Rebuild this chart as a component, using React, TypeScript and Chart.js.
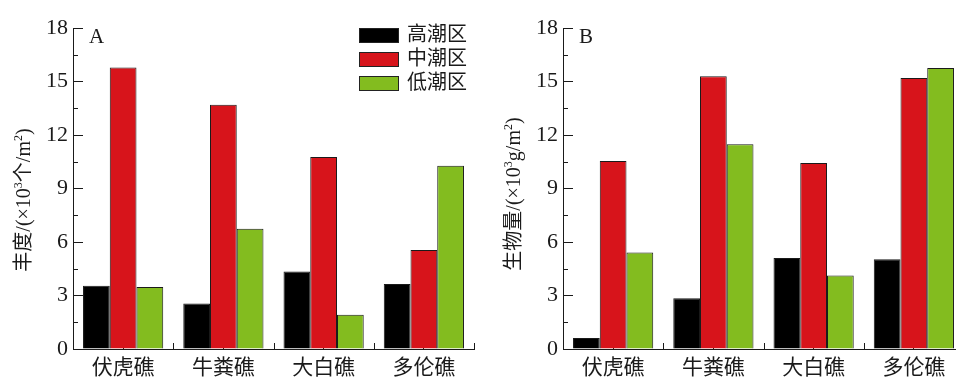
import React, { useEffect, useRef } from "react";
import { Chart, registerables } from "chart.js";

Chart.register(...registerables);

// Sampling sites and tidal zones
const reefs = ["伏虎礁", "牛粪礁", "大白礁", "多伦礁"];
const zoneNames = ["高潮区", "中潮区", "低潮区"];
const zoneColors = ["#000000", "#d7141b", "#83bc1f"];

// Abundance (×10³ ind/m²) per reef, by tidal zone
const abundanceHigh = [3.55, 2.56, 4.35, 3.65];
const abundanceMid = [15.8, 13.7, 10.77, 5.56];
const abundanceLow = [3.48, 6.75, 1.92, 10.28];

// Biomass (×10³ g/m²) per reef, by tidal zone
const biomassHigh = [0.62, 2.85, 5.1, 5.04];
const biomassMid = [10.55, 15.3, 10.44, 15.21];
const biomassLow = [5.41, 11.49, 4.13, 15.76];

const yTicks = [0, 3, 6, 9, 12, 15, 18];

const SERIF = "'Liberation Serif', 'Times New Roman', 'Noto Sans CJK SC', serif";
const AXIS = "#1a1a1a";
const TEXT = "#1a1a1a";

type Seg = { t: string; sup?: boolean };

const abundanceTitle: Seg[] = [
  { t: "丰度/(×10" },
  { t: "3", sup: true },
  { t: "个/m" },
  { t: "2", sup: true },
  { t: ")" },
];
const biomassTitle: Seg[] = [
  { t: "生物量/(×10" },
  { t: "3", sup: true },
  { t: "g/m" },
  { t: "2", sup: true },
  { t: ")" },
];

// Minor ticks, panel letter, rotated axis title with superscripts, legend
const panelDecor = {
  id: "panelDecor",
  afterDraw(chart: any, _args: any, opts: any) {
    const { ctx, chartArea } = chart;
    const xs = chart.scales.x;
    const ys = chart.scales.y;
    ctx.save();
    ctx.strokeStyle = AXIS;
    ctx.lineWidth = 1;

    for (let i = 0; i < yTicks.length - 1; i++) {
      const v = (yTicks[i] + yTicks[i + 1]) / 2;
      const py = Math.round(ys.getPixelForValue(v)) + 0.5;
      ctx.beginPath();
      ctx.moveTo(chartArea.left, py);
      ctx.lineTo(chartArea.left + 5, py);
      ctx.stroke();
    }
    for (let i = 1; i <= reefs.length; i++) {
      const px = Math.round(xs.getPixelForValue(i - 0.5)) + 0.5;
      ctx.beginPath();
      ctx.moveTo(px, chartArea.bottom);
      ctx.lineTo(px, chartArea.bottom - 6);
      ctx.stroke();
    }

    // panel letter
    ctx.fillStyle = TEXT;
    ctx.font = `21px ${SERIF}`;
    ctx.textAlign = "left";
    ctx.textBaseline = "alphabetic";
    ctx.fillText(opts.letter, opts.letterX, opts.letterY);

    // y-axis title
    const segs: Seg[] = opts.title;
    const baseFont = `20px ${SERIF}`;
    const supFont = `12px ${SERIF}`;
    let total = 0;
    for (const s of segs) {
      ctx.font = s.sup ? supFont : baseFont;
      total += ctx.measureText(s.t).width;
    }
    ctx.save();
    ctx.translate(opts.titleX, opts.titleY);
    ctx.rotate(-Math.PI / 2);
    let cx = -total / 2;
    for (const s of segs) {
      ctx.font = s.sup ? supFont : baseFont;
      ctx.fillText(s.t, cx, s.sup ? -1 : 7);
      cx += ctx.measureText(s.t).width;
    }
    ctx.restore();

    // legend
    if (opts.legend) {
      const { x, y, gap } = opts.legend;
      chart.data.datasets.forEach((ds: any, i: number) => {
        const cy = y + i * gap;
        ctx.fillStyle = ds.backgroundColor;
        ctx.fillRect(x, cy - 7, 40, 14);
        ctx.strokeStyle = "#222";
        ctx.strokeRect(x + 0.5, cy - 7 + 0.5, 39, 14);
        ctx.fillStyle = TEXT;
        ctx.font = `20px ${SERIF}`;
        ctx.textBaseline = "middle";
        ctx.fillText(ds.label, x + 48, cy + 1);
      });
    }
    ctx.restore();
  },
};

type PanelProps = {
  high: number[];
  mid: number[];
  low: number[];
  title: Seg[];
  letter: string;
  legend: boolean;
  titleY: number;
};

function Panel({ high, mid, low, title, letter, legend, titleY }: PanelProps) {
  const ref = useRef<HTMLCanvasElement | null>(null);

  useEffect(() => {
    if (!ref.current) return;
    const series = [high, mid, low];
    const chart = new Chart(ref.current, {
      type: "bar",
      data: {
        labels: reefs,
        datasets: series.map((vals, i) => ({
          label: zoneNames[i],
          data: vals,
          backgroundColor: zoneColors[i],
          borderColor: "#1a1a1a",
          borderWidth: 1,
          categoryPercentage: 0.8,
          barPercentage: 1,
        })),
      },
      options: {
        responsive: false,
        animation: false,
        layout: { padding: { top: 23, right: 6, bottom: 0, left: 0 } },
        plugins: {
          legend: { display: false },
          tooltip: { enabled: false },
          panelDecor: {
            letter,
            letterX: 89,
            letterY: 43,
            title,
            titleX: 23,
            titleY,
            legend: legend ? { x: 359, y: 35, gap: 24 } : null,
          },
        } as any,
        scales: {
          x: {
            offset: true,
            z: 1,
            grid: {
              offset: false,
              drawOnChartArea: false,
              drawTicks: true,
              tickLength: -10,
              color: AXIS,
              tickColor: AXIS,
              lineWidth: 1,
            },
            border: { display: true, color: AXIS, width: 1 },
            ticks: {
              font: { family: SERIF, size: 21 },
              color: TEXT,
              padding: 17,
              maxRotation: 0,
              autoSkip: false,
            },
            afterFit: (s: any) => {
              s.height = 29;
            },
          },
          y: {
            min: yTicks[0],
            max: yTicks[yTicks.length - 1],
            z: 1,
            grid: {
              drawOnChartArea: false,
              drawTicks: true,
              tickLength: -10,
              color: AXIS,
              tickColor: AXIS,
              lineWidth: 1,
            },
            border: { display: true, color: AXIS, width: 1 },
            ticks: {
              stepSize: yTicks[1] - yTicks[0],
              font: { family: SERIF, size: 22 },
              color: TEXT,
              padding: 15,
            },
            afterFit: (s: any) => {
              s.width = 73;
            },
          },
        },
      },
      plugins: [panelDecor],
    });
    return () => chart.destroy();
  }, [high, mid, low, title, letter, legend, titleY]);

  return <canvas ref={ref} width={480} height={378} style={{ width: 480, height: 378, display: "block" }} />;
}

export default function App() {
  return (
    <div
      style={{
        position: "fixed",
        left: 0,
        top: 0,
        width: 956,
        height: 378,
        overflow: "hidden",
        background: "#ffffff",
      }}
    >
      <div style={{ position: "absolute", left: 0, top: 0 }}>
        <Panel
          high={abundanceHigh}
          mid={abundanceMid}
          low={abundanceLow}
          title={abundanceTitle}
          letter="A"
          legend={true}
          titleY={200}
        />
      </div>
      <div style={{ position: "absolute", left: 490, top: 0 }}>
        <Panel
          high={biomassHigh}
          mid={biomassMid}
          low={biomassLow}
          title={biomassTitle}
          letter="B"
          legend={false}
          titleY={194}
        />
      </div>
    </div>
  );
}
